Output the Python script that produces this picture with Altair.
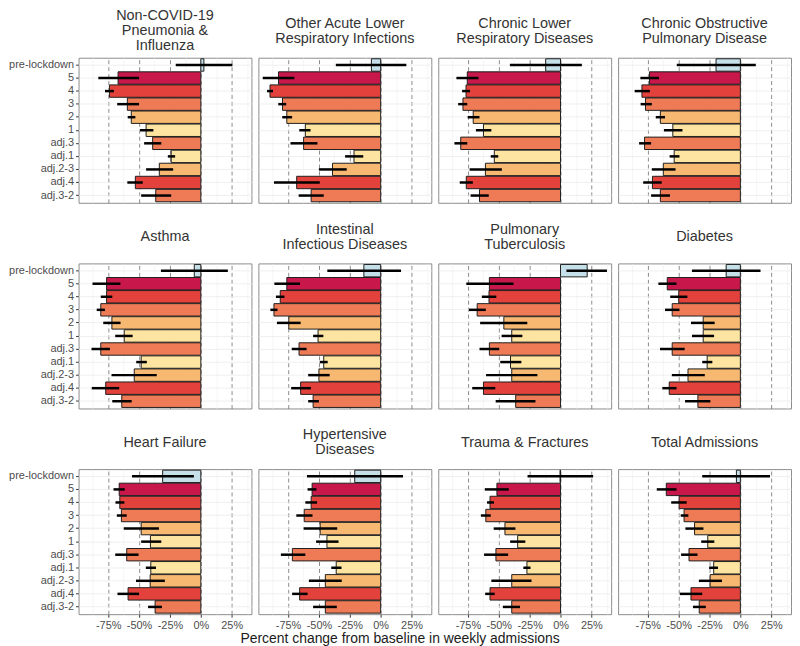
import altair as alt
import pandas as pd

categories = ["pre-lockdown", "5", "4", "3", "2", "1", "adj.3", "adj.1", "adj.2-3", "adj.4", "adj.3-2"]
colors = ["#c6e0ea", "#c8174a", "#e3413b", "#ee7b56", "#f7b872", "#fde4a0",
          "#ee7b56", "#fde4a0", "#f7b872", "#e3413b", "#ee7b56"]

# facet titles; '|' separates lines
panels = [
    "Non-COVID-19|Pneumonia &|Influenza",
    "Other Acute Lower|Respiratory Infections",
    "Chronic Lower|Respiratory Diseases",
    "Chronic Obstructive|Pulmonary Disease",
    "Asthma",
    "Intestinal|Infectious Diseases",
    "Pulmonary|Tuberculosis",
    "Diabetes",
    "Heart Failure",
    "Hypertensive|Diseases",
    "Trauma & Fractures",
    "Total Admissions",
]

# estimates, lower and upper CI (percent change), one list per panel, in category order
pneumonia_est = [2.5, -67, -74, -59.5, -56.3, -44.3, -39, -24, -33.6, -53, -36.5]
pneumonia_lo = [-20.3, -83, -77.6, -67.7, -59.2, -49.3, -45.9, -26.7, -44.3, -59.5, -48.3]
pneumonia_hi = [25.6, -50, -70.4, -50, -53, -38.4, -32, -20.8, -22.4, -47, -24]

other_alri_est = [-7.5, -82.7, -89.6, -79.5, -76, -61, -62.4, -21.6, -39, -68, -56.3]
other_alri_lo = [-36.3, -95.5, -92, -82.9, -79.7, -65.9, -73, -28.8, -50, -86.4, -66.4]
other_alri_hi = [20.8, -69.9, -87.2, -76.5, -71.7, -56.8, -51.2, -14.1, -27.5, -49.3, -46.1]

clrd_est = [-12, -75.5, -76.5, -79, -70.7, -62.4, -80.8, -53.6, -60.8, -76.3, -65.6]
clrd_lo = [-41, -84.3, -79.7, -82.9, -75.2, -68.5, -85.9, -56.5, -73.6, -81.6, -72.8]
clrd_hi = [17.3, -66.4, -73.3, -75.5, -65.6, -56, -75.5, -50.4, -47.5, -71, -58.1]

copd_est = [-19.7, -73.6, -79.7, -76.8, -64.8, -54.7, -77.6, -53.6, -62.4, -71.2, -64.8]
copd_lo = [-51.5, -81, -85.6, -80.8, -68.5, -61.9, -82, -57.3, -71.7, -78.7, -72.3]
copd_hi = [12.5, -65.9, -73.3, -71.7, -61, -46.9, -72.3, -49.3, -52.5, -63.7, -57]

asthma_est = [-5.3, -76.3, -76.3, -81, -72, -62, -81, -48.3, -53.9, -77, -64]
asthma_lo = [-32.3, -87.7, -81, -84.3, -79, -69.3, -88.5, -52.3, -72.3, -88.3, -71.7]
asthma_hi = [21.9, -65.1, -71.7, -77.6, -65, -55.2, -73.6, -43.7, -35.7, -66.1, -56]

intestinal_est = [-13.6, -76, -81.3, -86.4, -74.4, -50.7, -66.1, -46.1, -50, -64.8, -54.7]
intestinal_lo = [-43.2, -86.1, -84.8, -89.3, -84, -54.7, -72, -49.3, -58.7, -72.5, -58.7]
intestinal_hi = [16.5, -65.3, -77.9, -83.5, -64.8, -46.4, -60, -42.9, -41.3, -56.5, -50]

tb_est = [21.6, -57.6, -57.9, -67.5, -45.9, -39.5, -57.6, -40.5, -39.5, -62.4, -36.3]
tb_lo = [4.8, -76.3, -63.7, -74.1, -65.1, -47.7, -65.6, -48.8, -60.3, -71.5, -52.5]
tb_hi = [37.6, -38.1, -52, -60.5, -26.9, -30.9, -49.6, -31.7, -18.7, -52.8, -20.3]

diabetes_est = [-11.5, -59.2, -49.9, -55.2, -30.1, -30.1, -55.2, -26.9, -42.4, -57.6, -34.4]
diabetes_lo = [-39.2, -66.4, -56.8, -61, -40, -39.2, -65.1, -30.9, -55.5, -63.2, -44.8]
diabetes_hi = [16.3, -51.7, -42.9, -49.3, -20.8, -21.3, -45.1, -22.7, -28.8, -51.7, -24.3]

heart_est = [-30.9, -66.1, -65.6, -64.3, -48.3, -40.8, -60, -40.5, -41, -58.9, -37]
heart_lo = [-55.7, -70.7, -69.1, -68, -62.4, -48.3, -69.3, -44.5, -52.5, -67.5, -42.7]
heart_hi = [-5.6, -61.6, -61.9, -60, -33.9, -32, -50.4, -36.3, -29.1, -50, -31.5]

hyper_est = [-21, -55.5, -56.3, -61.9, -49, -43.5, -71.5, -36, -44.8, -65.6, -44.8]
hyper_lo = [-59.7, -59.2, -61, -68.3, -62.4, -52.3, -80.8, -40, -58.1, -71.7, -54.7]
hyper_hi = [18.1, -52, -51.5, -55.2, -35.2, -34.1, -61, -31.7, -31.5, -59.2, -35.5]

trauma_est = [-0.4, -51.5, -57.1, -60.5, -45, -34.7, -52.3, -27.2, -39.5, -57.1, -39.5]
trauma_lo = [-26.7, -61.3, -59.5, -64.5, -54.1, -40.8, -61.9, -30.1, -56, -61, -46.7]
trauma_hi = [26.4, -41.9, -53.9, -56.5, -36.5, -28.5, -42.4, -24.3, -23.5, -53.3, -32.8]

total_est = [-3.2, -60, -49.6, -45.6, -37.1, -26.4, -41.6, -21.6, -24.5, -40, -33.3]
total_lo = [-30.9, -67.7, -56, -48.3, -44.5, -31.7, -48, -25.3, -33.6, -49.1, -38.4]
total_hi = [24, -51.7, -43.5, -42.1, -29.9, -21.1, -34.7, -18.1, -14.9, -30.9, -28]

series = [
    (pneumonia_est, pneumonia_lo, pneumonia_hi),
    (other_alri_est, other_alri_lo, other_alri_hi),
    (clrd_est, clrd_lo, clrd_hi),
    (copd_est, copd_lo, copd_hi),
    (asthma_est, asthma_lo, asthma_hi),
    (intestinal_est, intestinal_lo, intestinal_hi),
    (tb_est, tb_lo, tb_hi),
    (diabetes_est, diabetes_lo, diabetes_hi),
    (heart_est, heart_lo, heart_hi),
    (hyper_est, hyper_lo, hyper_hi),
    (trauma_est, trauma_lo, trauma_hi),
    (total_est, total_lo, total_hi),
]

major_ticks = [-75, -50, -25, 0, 25]
minor_ticks = [-87.5, -62.5, -37.5, -12.5, 12.5, 37.5]

W, H = 174, 146

rows = []
for i, (panel, (est, lo, hi)) in enumerate(zip(panels, series)):
    lines = panel.split("|")
    lines += [""] * (3 - len(lines))
    for c, e, l, h in zip(categories, est, lo, hi):
        rows.append({"pid": i, "nlines": panel.count("|") + 1,
                     "line0": lines[0], "line1": lines[1], "line2": lines[2],
                     "cat": c, "est": e, "lo": l, "hi": h})
df = pd.DataFrame(rows)

x_scale = alt.Scale(domain=[-99, 41], nice=False, zero=False)
y_scale = alt.Scale(domain=categories, paddingInner=0.05, paddingOuter=0.08)

major_axis = alt.Axis(
    values=major_ticks,
    title=None,
    labelExpr="datum.value + '%'",
    labelFontSize=11,
    labelColor="#4d4d4d",
    labelPadding=2,
    tickSize=3,
    tickColor="#333333",
    domain=False,
    grid=True,
    gridColor="#6e6e6e",
    gridDash=[4, 3],
    gridWidth=0.8,
)
minor_axis = alt.Axis(
    values=minor_ticks,
    title=None,
    labels=False,
    ticks=False,
    domain=False,
    grid=True,
    gridColor="#efefef",
    gridWidth=0.6,
)
y_axis = alt.Axis(
    title=None,
    labelFontSize=11,
    labelColor="#4d4d4d",
    labelPadding=2,
    tickSize=3,
    tickColor="#333333",
    domain=False,
    grid=True,
    gridColor="#ebebeb",
    gridWidth=0.8,
    bandPosition=0.5,
)

bars = alt.Chart().mark_bar(stroke="#1f1f1f", strokeWidth=1).encode(
    y=alt.Y("cat:N", scale=y_scale, axis=y_axis, sort=categories),
    x=alt.X("est:Q", scale=x_scale, axis=major_axis),
    fill=alt.Fill("cat:N", scale=alt.Scale(domain=categories, range=colors), legend=None),
)
errs = alt.Chart().mark_rule(color="black", strokeWidth=2.5).encode(
    y=alt.Y("cat:N", scale=y_scale, sort=categories),
    x=alt.X("lo:Q", scale=x_scale, axis=minor_axis),
    x2="hi:Q",
)


def title_line(n, k, center):
    return alt.Chart().transform_filter(
        f"datum.cat == 'pre-lockdown' && datum.nlines == {n}"
    ).mark_text(
        baseline="middle",
        align="center",
        fontSize=14.5,
        color="#333333",
        font="Liberation Sans",
    ).encode(
        text=f"line{k}:N",
        x=alt.value(W / 2),
        y=alt.value(center),
    )


titles = [
    title_line(3, 0, -42), title_line(3, 1, -27), title_line(3, 2, -12),
    title_line(2, 0, -34), title_line(2, 1, -19),
    title_line(1, 0, -26.5),
]

chart = alt.layer(bars, errs, *titles, data=df).resolve_axis(x="independent").properties(
    width=W, height=H
).facet(
    facet=alt.Facet(
        "pid:O",
        title=None,
        header=alt.Header(labels=False, labelExpr="''", labelPadding=0, title=None),
    ),
    columns=4,
    spacing={"row": 61, "column": 7},
    bounds="flush",
).properties(
    padding={"top": -13, "bottom": 0, "left": 0, "right": 0},
    title=alt.TitleParams(
        "Percent change from baseline in weekly admissions",
        orient="bottom",
        anchor="middle",
        fontSize=14,
        fontWeight="normal",
        color="#1a1a1a",
        font="Liberation Sans",
        offset=2,
    ),
).configure(
    font="Liberation Sans",
).configure_view(
    stroke="#8c8c8c",
    strokeWidth=1,
).configure_axis(
    labelFont="Liberation Sans",
).configure_header(
    labels=False,
    labelPadding=0,
    titlePadding=0,
)

chart.save("out.html", embed_options={"renderer": "svg", "actions": False})
